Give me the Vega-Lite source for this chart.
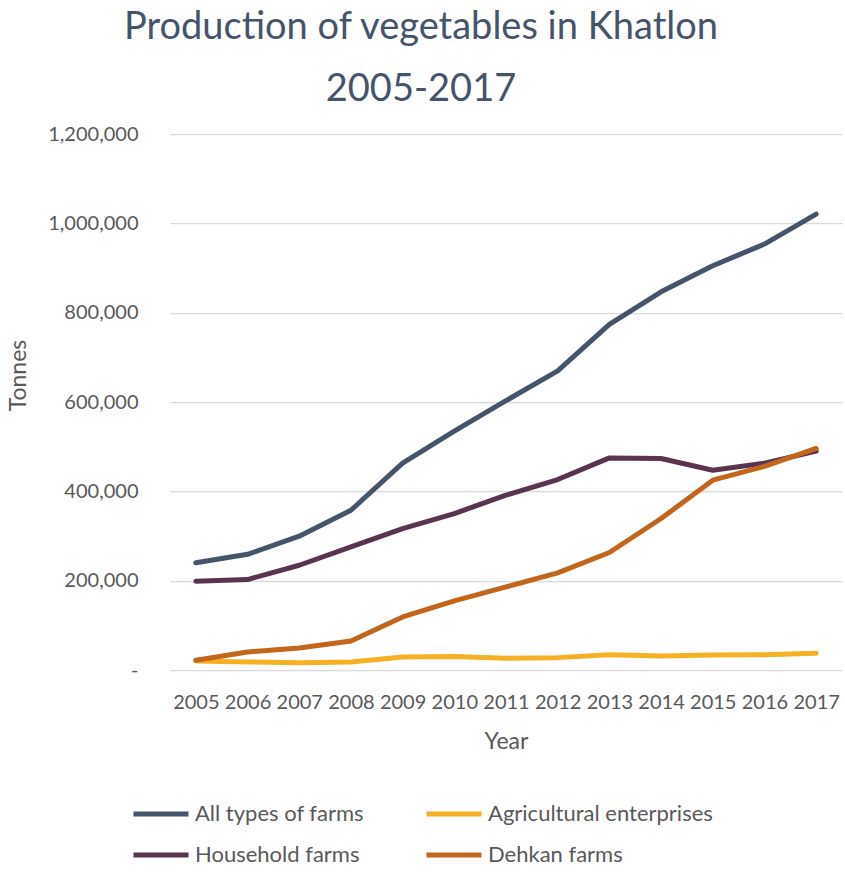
{
  "$schema": "https://vega.github.io/schema/vega-lite/v6.json",
  "autosize": "none",
  "padding": {"left": 170, "top": 134, "right": 3, "bottom": 202},
  "width": 672,
  "height": 536,
  "background": "white",
  "title": {
    "text": ["Production of vegetables in Khatlon", "2005-2017"],
    "font": "Lato",
    "fontSize": 38,
    "fontWeight": "normal",
    "color": "#44546A",
    "lineHeight": 62,
    "anchor": "middle",
    "dx": -85,
    "dy": 49,
    "offset": 34,
    "baseline": "alphabetic"
  },
  "config": {
    "view": {"stroke": null},
    "font": "Lato"
  },
  "data": {
    "values": [
      {"year": "2005", "series": "All types of farms", "value": 240000},
      {"year": "2006", "series": "All types of farms", "value": 259000},
      {"year": "2007", "series": "All types of farms", "value": 299500},
      {"year": "2008", "series": "All types of farms", "value": 357700},
      {"year": "2009", "series": "All types of farms", "value": 463000},
      {"year": "2010", "series": "All types of farms", "value": 535000},
      {"year": "2011", "series": "All types of farms", "value": 603000},
      {"year": "2012", "series": "All types of farms", "value": 669800},
      {"year": "2013", "series": "All types of farms", "value": 774000},
      {"year": "2014", "series": "All types of farms", "value": 846700},
      {"year": "2015", "series": "All types of farms", "value": 905000},
      {"year": "2016", "series": "All types of farms", "value": 953600},
      {"year": "2017", "series": "All types of farms", "value": 1020800},
      {"year": "2005", "series": "Agricultural enterprises", "value": 20200},
      {"year": "2006", "series": "Agricultural enterprises", "value": 18000},
      {"year": "2007", "series": "Agricultural enterprises", "value": 16500},
      {"year": "2008", "series": "Agricultural enterprises", "value": 18000},
      {"year": "2009", "series": "Agricultural enterprises", "value": 29100},
      {"year": "2010", "series": "Agricultural enterprises", "value": 30000},
      {"year": "2011", "series": "Agricultural enterprises", "value": 26200},
      {"year": "2012", "series": "Agricultural enterprises", "value": 27700},
      {"year": "2013", "series": "Agricultural enterprises", "value": 34400},
      {"year": "2014", "series": "Agricultural enterprises", "value": 31400},
      {"year": "2015", "series": "Agricultural enterprises", "value": 33600},
      {"year": "2016", "series": "Agricultural enterprises", "value": 34400},
      {"year": "2017", "series": "Agricultural enterprises", "value": 37400},
      {"year": "2005", "series": "Household farms", "value": 198700},
      {"year": "2006", "series": "Household farms", "value": 202500},
      {"year": "2007", "series": "Household farms", "value": 234500},
      {"year": "2008", "series": "Household farms", "value": 275600},
      {"year": "2009", "series": "Household farms", "value": 316700},
      {"year": "2010", "series": "Household farms", "value": 350300},
      {"year": "2011", "series": "Household farms", "value": 391300},
      {"year": "2012", "series": "Household farms", "value": 426400},
      {"year": "2013", "series": "Household farms", "value": 474900},
      {"year": "2014", "series": "Household farms", "value": 473500},
      {"year": "2015", "series": "Household farms", "value": 447300},
      {"year": "2016", "series": "Household farms", "value": 463000},
      {"year": "2017", "series": "Household farms", "value": 489900},
      {"year": "2005", "series": "Dehkan farms", "value": 21700},
      {"year": "2006", "series": "Dehkan farms", "value": 40300},
      {"year": "2007", "series": "Dehkan farms", "value": 49300},
      {"year": "2008", "series": "Dehkan farms", "value": 65000},
      {"year": "2009", "series": "Dehkan farms", "value": 118700},
      {"year": "2010", "series": "Dehkan farms", "value": 154600},
      {"year": "2011", "series": "Dehkan farms", "value": 186000},
      {"year": "2012", "series": "Dehkan farms", "value": 217300},
      {"year": "2013", "series": "Dehkan farms", "value": 263000},
      {"year": "2014", "series": "Dehkan farms", "value": 339100},
      {"year": "2015", "series": "Dehkan farms", "value": 425000},
      {"year": "2016", "series": "Dehkan farms", "value": 456000},
      {"year": "2017", "series": "Dehkan farms", "value": 496000}
    ]
  },
  "mark": {"type": "line", "strokeWidth": 5, "strokeCap": "round", "strokeJoin": "round"},
  "encoding": {
    "x": {
      "field": "year",
      "type": "ordinal",
      "scale": {"type": "point", "padding": 0.5},
      "axis": {
        "title": "Year",
        "titleFont": "Lato",
        "titleFontSize": 23,
        "titleFontWeight": "normal",
        "titleColor": "#595959",
        "titleBaseline": "alphabetic",
        "titleY": 78,
        "labelFont": "Lato",
        "labelFontSize": 20,
        "labelColor": "#595959",
        "labelAngle": 0,
        "labelBaseline": "alphabetic",
        "labelPadding": 38,
        "ticks": false,
        "tickSize": 0,
        "domain": false,
        "grid": false
      }
    },
    "y": {
      "field": "value",
      "type": "quantitative",
      "scale": {"domain": [0, 1200000], "nice": false},
      "axis": {
        "title": "Tonnes",
        "titleFont": "Lato",
        "titleFontSize": 23,
        "titleFontWeight": "normal",
        "titleColor": "#595959",
        "titleAngle": -90,
        "titleAlign": "center",
        "titleBaseline": "alphabetic",
        "titleX": -145,
        "titleY": 241,
        "values": [0, 200000, 400000, 600000, 800000, 1000000, 1200000],
        "labelExpr": "datum.value == 0 ? '-\u00a0\u00a0' : format(datum.value, ',')",
        "labelFont": "Lato",
        "labelFontSize": 20,
        "labelColor": "#595959",
        "labelPadding": 32,
        "ticks": false,
        "tickSize": 0,
        "domain": false,
        "grid": true,
        "gridColor": "#D9D9D9",
        "gridWidth": 1.25
      }
    },
    "color": {
      "field": "series",
      "type": "nominal",
      "scale": {
        "domain": ["All types of farms", "Household farms", "Agricultural enterprises", "Dehkan farms"],
        "range": ["#44546A", "#5A344E", "#F5B024", "#C3661B"]
      },
      "legend": {
        "title": null,
        "orient": "none",
        "legendX": -39,
        "legendY": 650,
        "columns": 2,
        "columnPadding": 52,
        "rowPadding": -5,
        "symbolType": "stroke",
        "symbolSize": 3025,
        "symbolStrokeWidth": 5,
        "labelFont": "Lato",
        "labelFontSize": 22,
        "labelColor": "#595959",
        "labelOffset": 4,
        "labelLimit": 400
      }
    }
  }
}
